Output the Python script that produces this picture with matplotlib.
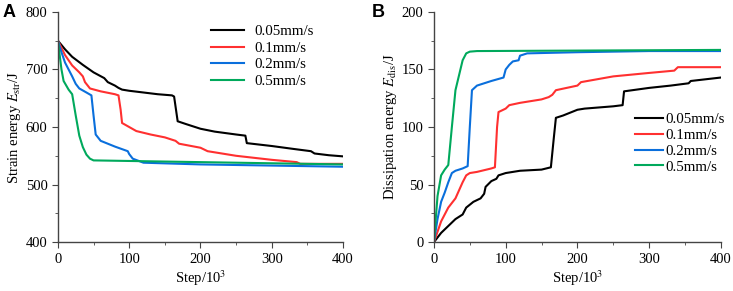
import numpy as np
import matplotlib
matplotlib.use("Agg")
import matplotlib.pyplot as plt
from matplotlib.ticker import MultipleLocator

plt.rcParams['font.family'] = ['Liberation Serif', 'DejaVu Serif']
plt.rcParams['mathtext.fontset'] = 'stix'

labels = ['0.05mm/s', '0.1mm/s', '0.2mm/s', '0.5mm/s']
colors = ['#000000', '#ff3030', '#0a6fdc', '#00a95c']

# panel A: strain energy (step in 10^3, energy in J)
a_x_005 = [0, 10, 20, 35, 50, 65, 70, 80, 85, 90, 100, 120, 140, 160, 163, 168, 180, 200, 220, 250, 263, 265, 300, 330, 355, 360, 380, 400]
a_y_005 = [750, 735, 722, 708, 695, 685, 678, 672, 668, 665, 663, 660, 657, 655, 653, 610, 605, 597, 592, 587, 585, 572, 567, 562, 558, 554, 551, 549]
a_x_01 = [0, 10, 20, 30, 35, 38, 45, 60, 80, 85, 88, 90, 100, 110, 130, 150, 165, 170, 200, 210, 250, 300, 335, 340, 400]
a_y_01 = [750, 725, 707, 695, 688, 678, 667, 662, 657, 655, 630, 607, 600, 593, 587, 582, 576, 571, 564, 558, 550, 543, 539, 536, 536]
a_x_02 = [0, 5, 10, 15, 20, 25, 30, 40, 47, 50, 53, 60, 80, 98, 100, 105, 120, 200, 300, 400]
a_y_02 = [750, 730, 712, 700, 688, 675, 667, 660, 655, 620, 587, 576, 566, 558, 553, 545, 538, 535, 533, 531]
a_x_05 = [0, 5, 8, 15, 20, 25, 30, 35, 40, 45, 50, 100, 200, 300, 400]
a_y_05 = [750, 700, 680, 665, 657, 620, 585, 565, 552, 545, 542, 541, 539, 537, 535]

# panel B: dissipation energy
b_x_005 = [0, 10, 20, 30, 40, 45, 55, 65, 70, 72, 80, 87, 90, 100, 120, 150, 163, 167, 170, 180, 200, 210, 250, 263, 265, 300, 330, 355, 358, 400]
b_y_005 = [0, 8, 14, 20, 24, 30, 35, 38, 42, 48, 53, 55, 58, 60, 62, 63, 65, 90, 108, 110, 115, 116, 118, 119, 131, 134, 136, 138, 140, 143]
b_x_01 = [0, 10, 20, 30, 35, 40, 45, 50, 60, 80, 85, 88, 90, 100, 105, 120, 150, 160, 165, 170, 200, 205, 250, 300, 335, 340, 400]
b_y_01 = [0, 18, 30, 38, 45, 52, 58, 60, 61, 64, 65, 100, 113, 116, 119, 121, 124, 126, 128, 132, 136, 139, 144, 147, 149, 152, 152]
b_x_02 = [0, 5, 10, 15, 20, 25, 30, 40, 47, 50, 53, 60, 80, 97, 100, 105, 110, 118, 120, 130, 200, 300, 400]
b_y_02 = [0, 20, 35, 43, 52, 60, 62, 64, 66, 100, 132, 136, 140, 143, 150, 154, 157, 158, 162, 164, 165, 166, 166]
b_x_05 = [0, 5, 10, 15, 20, 25, 30, 35, 40, 45, 50, 60, 400]
b_y_05 = [0, 40, 58, 63, 67, 100, 132, 145, 158, 164, 165.5, 166, 167]

a_series = [(a_x_005, a_y_005), (a_x_01, a_y_01), (a_x_02, a_y_02), (a_x_05, a_y_05)]
b_series = [(b_x_005, b_y_005), (b_x_01, b_y_01), (b_x_02, b_y_02), (b_x_05, b_y_05)]

fig = plt.figure(figsize=(7.33, 2.91), dpi=100)
ax1 = fig.add_axes([0.079, 0.168, 0.389, 0.791])
ax2 = fig.add_axes([0.592, 0.168, 0.3915, 0.791])


def style_axis(ax):
    for side in ['top', 'right']:
        ax.spines[side].set_visible(False)
    for side in ['left', 'bottom']:
        ax.spines[side].set_color('#444444')
        ax.spines[side].set_linewidth(1.0)
    ax.xaxis.set_major_locator(MultipleLocator(100))
    ax.xaxis.set_minor_locator(MultipleLocator(50))
    ax.tick_params(which='both', direction='out', colors='#444444', labelcolor='black', labelsize=10.5)
    ax.tick_params(which='major', length=4)
    ax.tick_params(which='minor', length=2.5)
    ax.set_xlim(0, 400)
    ax.set_xlabel('Step/10$^3$', fontsize=10.5, labelpad=2)


for (x, y), c, lab in zip(a_series, colors, labels):
    ax1.plot(x, y, color=c, lw=1.5, label=lab)
style_axis(ax1)
ax1.set_ylim(400, 800)
ax1.yaxis.set_major_locator(MultipleLocator(100))
ax1.yaxis.set_minor_locator(MultipleLocator(50))
ax1.set_ylabel('Strain energy $E_{\\rm str}$/J', fontsize=10.5, labelpad=2)
ax1.legend(loc='upper left', bbox_to_anchor=(0.516, 0.97), borderaxespad=0, frameon=False,
           fontsize=10.8, handlelength=2.2, labelspacing=0.2, handletextpad=0.7)

for (x, y), c, lab in zip(b_series, colors, labels):
    ax2.plot(x, y, color=c, lw=1.5, label=lab)
style_axis(ax2)
ax2.set_ylim(0, 200)
ax2.yaxis.set_major_locator(MultipleLocator(50))
ax2.yaxis.set_minor_locator(MultipleLocator(25))
ax2.set_ylabel('Dissipation energy $E_{\\rm dis}$/J', fontsize=10.5, labelpad=2)
ax2.legend(loc='upper left', bbox_to_anchor=(0.679, 0.588), borderaxespad=0, frameon=False,
           fontsize=10.8, handlelength=1.9, labelspacing=0.15, handletextpad=0.15)

fig.text(0.004, 0.985, 'A', fontsize=13, fontweight='bold', family='Liberation Sans', va='top')
fig.text(0.507, 0.985, 'B', fontsize=13, fontweight='bold', family='Liberation Sans', va='top')

fig.savefig('out.png', dpi=100)
